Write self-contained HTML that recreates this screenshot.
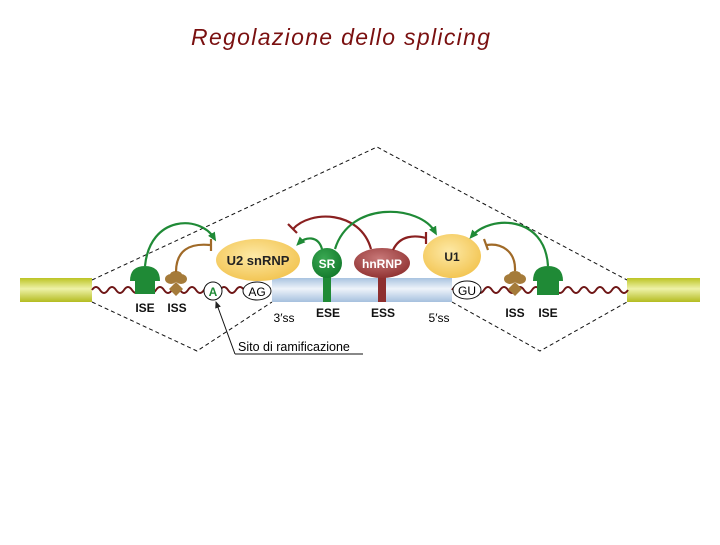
<!DOCTYPE html>
<html><head><meta charset="utf-8"><style>
body{margin:0;width:720px;height:540px;background:#fff;overflow:hidden}
</style></head><body>
<svg width="720" height="540" xmlns="http://www.w3.org/2000/svg" font-family="Liberation Sans, sans-serif">
<defs>
<linearGradient id="ex" x1="0" y1="0" x2="0" y2="1">
<stop offset="0" stop-color="#bcc424"/><stop offset="0.45" stop-color="#eef2a8"/><stop offset="1" stop-color="#b4bc20"/></linearGradient>
<linearGradient id="mid" x1="0" y1="0" x2="0" y2="1">
<stop offset="0" stop-color="#a9c3e0"/><stop offset="0.45" stop-color="#eef3fa"/><stop offset="1" stop-color="#a6c0de"/></linearGradient>
<radialGradient id="yel" cx="0.45" cy="0.4" r="0.65"><stop offset="0" stop-color="#fde9a6"/><stop offset="1" stop-color="#f2c34e"/></radialGradient>
<radialGradient id="grn" cx="0.4" cy="0.35" r="0.7"><stop offset="0" stop-color="#3aa852"/><stop offset="1" stop-color="#137a2c"/></radialGradient>
<radialGradient id="red" cx="0.45" cy="0.35" r="0.7"><stop offset="0" stop-color="#c87878"/><stop offset="1" stop-color="#8e2f2f"/></radialGradient>
<marker id="ag" markerUnits="userSpaceOnUse" markerWidth="9" markerHeight="9" refX="5" refY="4.5" orient="auto"><path d="M0,0.5 L9,4.5 L0,8.5 z" fill="#1f8a36"/></marker>
<marker id="ak" markerUnits="userSpaceOnUse" markerWidth="8" markerHeight="8" refX="6" refY="4" orient="auto"><path d="M0,1 L7,4 L0,7 z" fill="#222"/></marker>
</defs>
<text x="191" y="45" font-size="23" font-style="italic" fill="#7a1010" textLength="299" lengthAdjust="spacing">Regolazione dello splicing</text>
<g stroke="#111" stroke-width="1" stroke-dasharray="4,3" fill="none">
<path d="M92,280 L377,147 L627,280"/>
<path d="M92,302 L197,351 L272,302"/>
<path d="M452,302 L540,351 L627,302"/>
</g>
<rect x="20" y="278" width="72" height="24" fill="url(#ex)"/>
<rect x="627" y="278" width="73" height="24" fill="url(#ex)"/>
<rect x="272" y="278" width="180" height="24" fill="url(#mid)"/>
<g stroke="#6e1616" stroke-width="2" fill="none">
<path d="M92,290 q4,-6 8,0 t8,0 t8,0 t8,0 t8,0 t8,0 t8,0 t8,0 t8,0 t8,0 t8,0 t8,0 t8,0 t8,0 t8,0 t8,0 t8,0 t8,0 t8,0 t8,0 t8,0 t8,0"/>
<path d="M452,290 q4,-6 8,0 t8,0 t8,0 t8,0 t8,0 t8,0 t8,0 t8,0 t8,0 t8,0 t8,0 t8,0 t8,0 t8,0 t8,0 t8,0 t8,0 t8,0 t8,0 t8,0 t8,0 t8,0"/>
</g>
<circle cx="213" cy="291" r="9" fill="#fff" stroke="#111"/><text x="213" y="296" font-size="12" font-weight="bold" fill="#1f8a36" text-anchor="middle">A</text>
<ellipse cx="257" cy="291" rx="14" ry="9" fill="#fff" stroke="#111"/><text x="257" y="296" font-size="12" text-anchor="middle">AG</text>
<ellipse cx="467" cy="290" rx="14" ry="9" fill="#fff" stroke="#111"/><text x="467" y="295" font-size="12" text-anchor="middle">GU</text>
<rect x="135" y="280" width="20" height="14" fill="#1f8a36"/><path d="M130,281 Q130,266 145,266 Q160,266 160,281 Z" fill="#1f8a36"/>
<path d="M176,282 l7,7 l-7,7 l-7,-7z" fill="#a57b3a"/><ellipse cx="171" cy="279" rx="6" ry="5" fill="#a57b3a"/><ellipse cx="181" cy="279" rx="6" ry="5" fill="#a57b3a"/><ellipse cx="176" cy="275" rx="6" ry="4" fill="#a57b3a"/>
<path d="M515,282 l7,7 l-7,7 l-7,-7z" fill="#a57b3a"/><ellipse cx="510" cy="279" rx="6" ry="5" fill="#a57b3a"/><ellipse cx="520" cy="279" rx="6" ry="5" fill="#a57b3a"/><ellipse cx="515" cy="275" rx="6" ry="4" fill="#a57b3a"/>
<rect x="537" y="280" width="22" height="15" fill="#1f8a36"/><path d="M533,281 Q533,266 548,266 Q563,266 563,281 Z" fill="#1f8a36"/>
<rect x="323" y="272" width="8" height="30" fill="#1f8a36"/>
<rect x="378" y="272" width="8" height="30" fill="#8e2f2f"/>
<ellipse cx="258" cy="260" rx="42" ry="21" fill="url(#yel)"/><text x="258" y="265" font-size="13" font-weight="bold" text-anchor="middle" fill="#222">U2 snRNP</text>
<circle cx="327" cy="263" r="15" fill="url(#grn)"/><text x="327" y="268" font-size="12" font-weight="bold" text-anchor="middle" fill="#fff">SR</text>
<ellipse cx="382" cy="263" rx="28" ry="15" fill="url(#red)"/><text x="382" y="268" font-size="12" font-weight="bold" text-anchor="middle" fill="#fff">hnRNP</text>
<ellipse cx="452" cy="256" rx="29" ry="22" fill="url(#yel)"/><text x="452" y="261" font-size="12" font-weight="bold" text-anchor="middle" fill="#222">U1</text>
<g fill="none" stroke-width="2.2">
<path d="M145,266 C150,215 200,215 214,238" stroke="#1f8a36" marker-end="url(#ag)"/>
<path d="M176,272 C176,250 190,243 210,245" stroke="#a06a28"/><path d="M211,239 v12" stroke="#a06a28"/>
<path d="M371,249 C360,210 310,210 293,229" stroke="#8a2020"/><path d="M288,224 l9,9" stroke="#8a2020"/>
<path d="M322,249 C318,235 305,237 299,243" stroke="#1f8a36" marker-end="url(#ag)"/>
<path d="M335,249 C350,200 420,205 435,232" stroke="#1f8a36" marker-end="url(#ag)"/>
<path d="M393,250 C400,235 415,235 426,238" stroke="#8a2020"/><path d="M426,232 v12" stroke="#8a2020"/>
<path d="M515,271 C516,250 500,243 487,245" stroke="#a06a28"/><path d="M484,239 l4,11" stroke="#a06a28"/>
<path d="M548,266 C545,215 490,215 472,236" stroke="#1f8a36" marker-end="url(#ag)"/>
</g>
<g font-size="12" font-weight="bold" text-anchor="middle" fill="#111">
<text x="145" y="312">ISE</text><text x="177" y="312">ISS</text>
<text x="328" y="317">ESE</text><text x="383" y="317">ESS</text>
<text x="515" y="317">ISS</text><text x="548" y="317">ISE</text>
</g>
<text x="284" y="322" font-size="12" text-anchor="middle">3′ss</text>
<text x="439" y="322" font-size="12" text-anchor="middle">5′ss</text>
<text x="238" y="351" font-size="12.5">Sito di ramificazione</text>
<path d="M235,354 H363" stroke="#111"/>
<path d="M235,354 L216,302" stroke="#111" marker-end="url(#ak)"/>
</svg>
</body></html>
